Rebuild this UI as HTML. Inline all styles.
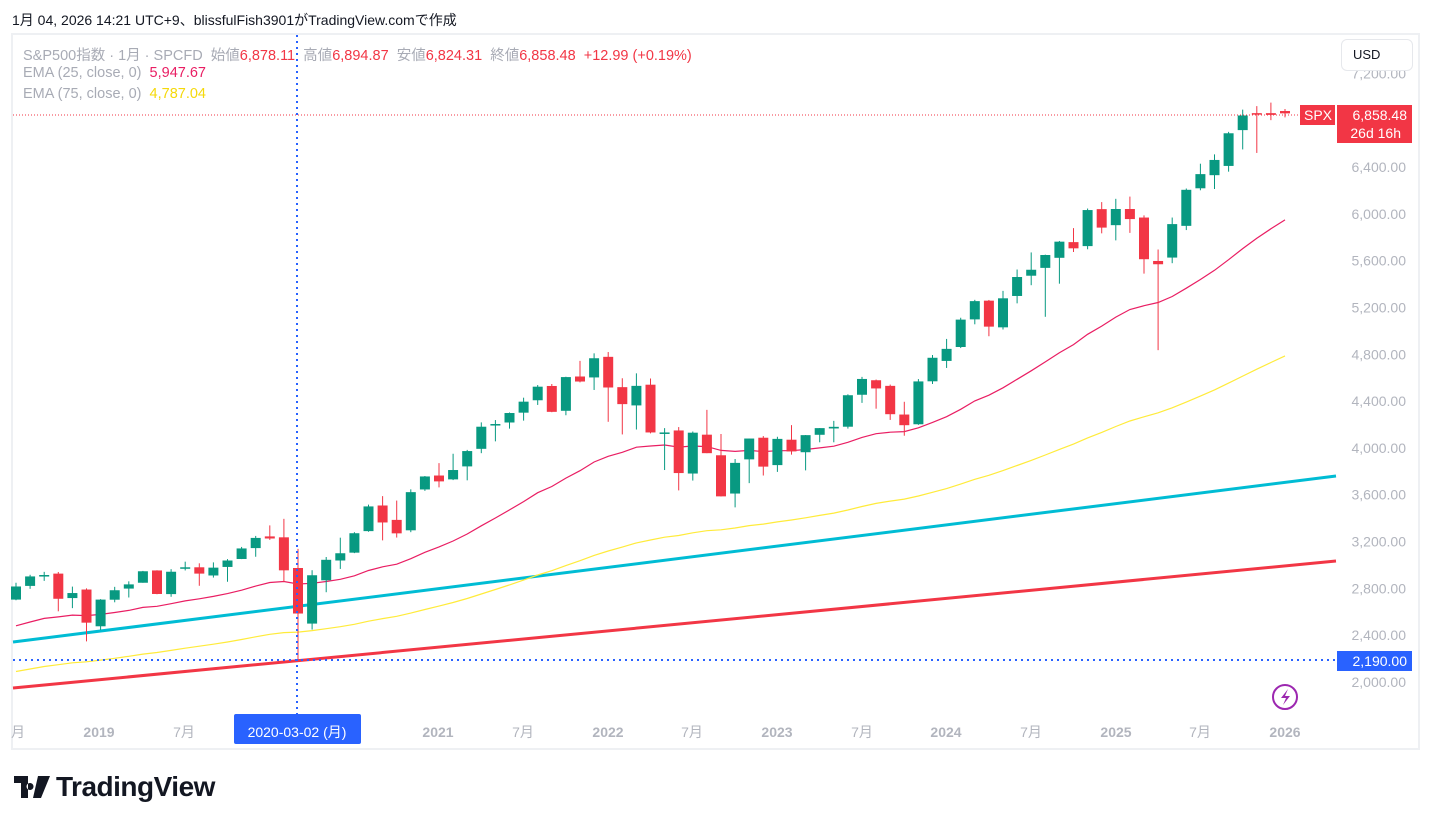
<!DOCTYPE html>
<html><head><meta charset="utf-8">
<style>
body{margin:0;background:#fff;width:1431px;height:824px;overflow:hidden;font-family:"Liberation Sans","Noto Sans CJK JP",sans-serif;}
#top{position:absolute;left:12px;top:10px;font-size:14px;color:#131722;}
#frame{position:absolute;left:11px;top:33px;width:1405px;height:713px;border:2px solid #eef0f3;}
.leg{position:absolute;left:23px;font-size:14.5px;color:#a8abb5;white-space:nowrap;}
.r{color:#f23645}
#usd{position:absolute;left:1341px;top:39px;width:70px;height:30px;border:1px solid #e6e8ec;border-radius:6px;font-size:13px;color:#131722;line-height:30px;text-indent:11px;background:#fff}
#logo{position:absolute;left:14px;top:771px;font-size:28px;font-weight:bold;color:#131722;letter-spacing:-0.5px}
</style></head><body>
<div id="top">1月 04, 2026 14:21 UTC+9、blissfulFish3901がTradingView.comで作成</div>
<div id="frame"></div>
<svg id="s" width="1431" height="824" style="position:absolute;left:0;top:0"></svg>
<div class="leg" style="top:44px">S&amp;P500指数 · 1月 · SPCFD &nbsp;始値<span class="r">6,878.11</span> &nbsp;高値<span class="r">6,894.87</span> &nbsp;安値<span class="r">6,824.31</span> &nbsp;終値<span class="r">6,858.48</span> &nbsp;<span class="r">+12.99 (+0.19%)</span></div>
<div class="leg" style="top:65px">EMA (25, close, 0) &nbsp;<span style="color:#e91e63">5,947.67</span></div>
<div class="leg" style="top:86px">EMA (75, close, 0) &nbsp;<span style="color:#f5d90a">4,787.04</span></div>
<div id="usd">USD</div>
<div id="logo"><svg width="36" height="22" viewBox="0 0 36 22" style="vertical-align:-2px;margin-right:6px"><path d="M0 0h14v22h-7v-15h-7z M16 7a3.5 3.5 0 1 0 0.01 0z M24 0h12l-9 22h-8z" fill="#131722"/></svg>TradingView</div>
<script>
const D=[[2704,2848,2698,2816],[2821,2916,2796,2902],[2901,2941,2864,2914],[2926,2940,2604,2711],[2717,2815,2631,2760],[2790,2800,2347,2507],
[2476,2708,2444,2704],[2703,2813,2681,2784],[2798,2860,2722,2834],[2848,2949,2848,2946],[2953,2955,2750,2752],[2751,2964,2728,2942],[2971,3028,2953,2980],[2980,3014,2822,2926],[2910,3022,2892,2977],[2983,3050,2856,3038],[3051,3154,3050,3141],[3144,3248,3070,3231],
[3244,3338,3214,3226],[3236,3394,2855,2954],[2974,3137,2192,2585],[2499,2955,2448,2912],[2869,3068,2767,3044],[3038,3233,2966,3100],[3105,3280,3101,3271],[3289,3515,3284,3500],[3508,3588,3210,3363],[3385,3550,3234,3270],[3296,3646,3280,3622],[3645,3760,3633,3756],
[3764,3870,3663,3714],[3731,3950,3725,3811],[3842,3983,3723,3973],[3992,4218,3955,4181],[4191,4238,4056,4204],[4217,4302,4165,4298],[4301,4429,4233,4395],[4407,4537,4367,4523],[4529,4546,4305,4308],[4317,4608,4279,4605],[4610,4744,4560,4567],[4602,4808,4495,4766],
[4778,4819,4223,4516],[4519,4595,4115,4374],[4363,4637,4157,4530],[4540,4593,4124,4132],[4130,4169,3811,4132],[4149,4178,3637,3785],[3781,4140,3721,4130],[4113,4325,3955,3955],[3937,4119,3585,3586],[3610,3905,3492,3872],[3902,4080,3699,4080],[4087,4101,3764,3840],
[3853,4095,3795,4077],[4070,4195,3943,3970],[3963,4110,3808,4109],[4112,4170,4048,4169],[4166,4231,4048,4180],[4181,4458,4165,4450],[4454,4607,4385,4589],[4578,4584,4335,4508],[4530,4541,4239,4288],[4285,4394,4104,4194],[4202,4588,4197,4568],[4569,4794,4546,4770],
[4743,4931,4683,4846],[4862,5112,4853,5096],[5098,5265,5056,5254],[5258,5264,4954,5036],[5030,5342,5012,5278],[5298,5524,5235,5460],[5471,5670,5390,5522],[5538,5651,5120,5648],[5624,5768,5403,5762],[5758,5878,5674,5705],[5724,6045,5697,6032],[6040,6100,5833,5882],
[5903,6128,5773,6041],[6041,6147,5837,5955],[5968,5987,5489,5612],[5597,5695,4835,5569],[5626,5968,5578,5912],[5897,6216,5861,6205],[6218,6428,6201,6339],[6330,6508,6212,6460],[6409,6700,6360,6688],[6715,6890,6550,6840],[6860,6920,6520,6849],[6860,6950,6800,6845],[6878,6895,6824,6858]];
const Y=p=>682-(p-2000)*0.11705, X=i=>16+i*14.1;
let h='';
h+=`<line x1="13" y1="642" x2="1336" y2="476" stroke="#00bcd4" stroke-width="3"/>`;
h+=`<line x1="13" y1="688" x2="1336" y2="561" stroke="#f23645" stroke-width="3"/>`;
let e1=2480,e2=2090,p1=[],p2=[];const a1=2/26,a2=2/76;
D.forEach((d,i)=>{if(i>0){e1=d[3]*a1+e1*(1-a1);e2=d[3]*a2+e2*(1-a2);}p1.push(X(i).toFixed(1)+','+Y(e1).toFixed(1));p2.push(X(i).toFixed(1)+','+Y(e2).toFixed(1));});
h+=`<polyline points="${p2.join(' ')}" fill="none" stroke="#ffeb3b" stroke-width="1.2"/>`;
h+=`<polyline points="${p1.join(' ')}" fill="none" stroke="#e91e63" stroke-width="1.2"/>`;
D.forEach((d,i)=>{const c=d[3]>=d[0]?'#089981':'#f23645',x=X(i);
h+=`<line x1="${x}" x2="${x}" y1="${Y(d[1])}" y2="${Y(d[2])}" stroke="${c}" stroke-width="1"/>`;
const t=Y(Math.max(d[0],d[3])),b=Y(Math.min(d[0],d[3]));
h+=`<rect x="${x-5}" y="${t}" width="10" height="${Math.max(b-t,1.5)}" fill="${c}"/>`;});
h+=`<line x1="13" y1="115" x2="1300" y2="115" stroke="#f23645" stroke-width="1" stroke-dasharray="1,2"/>`;
h+=`<line x1="13" y1="660" x2="1336" y2="660" stroke="#2962ff" stroke-width="2" stroke-dasharray="2,4"/>`;
h+=`<line x1="297" y1="35" x2="297" y2="714" stroke="#2962ff" stroke-width="2" stroke-dasharray="2,4"/>`;
const lab=[7200,6400,6000,5600,5200,4800,4400,4000,3600,3200,2800,2400,2000];
lab.forEach(v=>{h+=`<text x="1406" y="${Y(v)+5}" text-anchor="end" font-size="14" fill="#b2b5be">${v.toLocaleString('en-US')}.00</text>`;});
h+=`<rect x="1300" y="105" width="35" height="20" fill="#f23645"/><text x="1318" y="120" text-anchor="middle" font-size="14" fill="#fff">SPX</text>`;
h+=`<rect x="1337" y="105" width="75" height="38" fill="#f23645"/><text x="1407" y="120" text-anchor="end" font-size="14" fill="#fff">6,858.48</text><text x="1401" y="138" text-anchor="end" font-size="14" fill="#fff">26d 16h</text>`;
h+=`<rect x="1337" y="651" width="75" height="20" fill="#2962ff"/><text x="1407" y="666" text-anchor="end" font-size="14" fill="#fff">2,190.00</text>`;
const tl=[[18,'月',0],[99,'2019',1],[184,'7月',0],[438,'2021',1],[523,'7月',0],[608,'2022',1],[692,'7月',0],[777,'2023',1],[862,'7月',0],[946,'2024',1],[1031,'7月',0],[1116,'2025',1],[1200,'7月',0],[1285,'2026',1]];
tl.forEach(t=>{h+=`<text x="${t[0]}" y="737" text-anchor="middle" font-size="14" ${t[2]?'font-weight="bold"':''} fill="#b2b5be">${t[1]}</text>`;});
h+=`<rect x="234" y="714" width="127" height="30" rx="2" fill="#2962ff"/><text x="297" y="737" text-anchor="middle" font-size="14" fill="#fff">2020-03-02 (月)</text>`;
h+=`<circle cx="1285" cy="697" r="12" fill="none" stroke="#9c27b0" stroke-width="2"/><path d="M1288 689l-7 9h5l-3 7 7-9h-5z" fill="#9c27b0"/>`;
document.getElementById('s').innerHTML=h;
</script>
</body></html>
